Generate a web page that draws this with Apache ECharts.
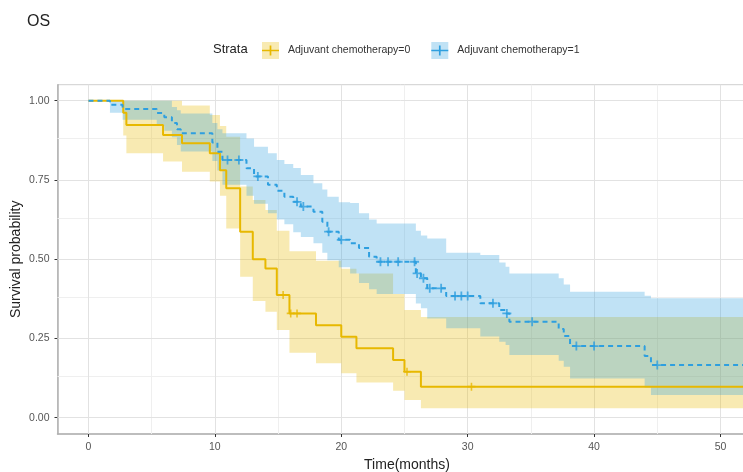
<!DOCTYPE html>
<html>
<head>
<meta charset="utf-8">
<script src="https://cdn.jsdelivr.net/npm/echarts@6/dist/echarts.min.js"></script>
<style>
  html, body { margin: 0; padding: 0; background: #fff; }
  #main { width: 743px; height: 472px; }
</style>
</head>
<body>
<div id="main"></div>
<script>
// Adjuvant chemotherapy=0 (yellow, solid)
const time0  = [0, 2.75, 3.0, 5.9, 7.4, 9.6, 10.4, 10.9, 12.0, 13.0, 14.0, 14.9, 15.9, 18.0, 20.0, 21.2, 24.1, 25.0, 26.3, 53]
const surv0  = [1, 0.962, 0.923, 0.892, 0.866, 0.834, 0.781, 0.724, 0.587, 0.500, 0.471, 0.387, 0.329, 0.292, 0.255, 0.219, 0.182, 0.145, 0.098, 0.098]
const lower0 = [1, 0.89, 0.834, 0.808, 0.776, 0.745, 0.70, 0.597, 0.445, 0.368, 0.334, 0.277, 0.205, 0.172, 0.14, 0.111, 0.085, 0.056, 0.03, 0.03]
const upper0 = [1, 1, 1, 1, 0.985, 0.955, 0.92, 0.886, 0.729, 0.687, 0.655, 0.59, 0.525, 0.495, 0.47, 0.455, 0.39, 0.34, 0.318, 0.318]
const censor0 = [15.4, 16.0, 16.5, 25.2, 30.3]

// Adjuvant chemotherapy=1 (blue, dashed)
const time1  = [0, 1.7, 2.7, 5.4, 6.0, 6.6, 7.0, 7.3, 9.8, 10.2, 10.6, 12.5, 13.1, 14.2, 14.9, 15.5, 16.2, 16.8, 17.8, 18.5, 18.9, 19.8, 20.7, 21.4, 22.2, 22.8, 25.9, 26.3, 26.8, 28.3, 31.0, 32.5, 33.0, 33.3, 37.2, 37.6, 38.1, 44.0, 44.5, 53]
const surv1  = [1, 0.987, 0.974, 0.961, 0.948, 0.930, 0.910, 0.897, 0.868, 0.839, 0.813, 0.787, 0.761, 0.735, 0.716, 0.697, 0.681, 0.666, 0.650, 0.618, 0.587, 0.561, 0.550, 0.535, 0.508, 0.492, 0.455, 0.440, 0.408, 0.384, 0.361, 0.340, 0.329, 0.303, 0.280, 0.258, 0.226, 0.195, 0.166, 0.166]
const lower1 = [1, 0.962, 0.94, 0.92, 0.905, 0.885, 0.86, 0.84, 0.81, 0.78, 0.735, 0.70, 0.675, 0.645, 0.625, 0.61, 0.585, 0.57, 0.55, 0.52, 0.497, 0.475, 0.455, 0.425, 0.405, 0.39, 0.36, 0.345, 0.313, 0.282, 0.256, 0.24, 0.229, 0.198, 0.18, 0.161, 0.124, 0.095, 0.072, 0.072]
const upper1 = [1, 1, 1, 1, 1, 0.98, 0.97, 0.96, 0.93, 0.91, 0.897, 0.881, 0.855, 0.834, 0.813, 0.80, 0.788, 0.766, 0.74, 0.72, 0.697, 0.68, 0.677, 0.645, 0.625, 0.613, 0.59, 0.575, 0.565, 0.52, 0.513, 0.49, 0.476, 0.455, 0.44, 0.42, 0.397, 0.385, 0.377, 0.377]
const censor1 = [11.0, 11.9, 13.4, 16.5, 17.0, 19.0, 20.0, 23.1, 23.7, 24.5, 25.8, 26.0, 26.5, 27.0, 27.9, 29.0, 29.5, 30.0, 32.0, 33.1, 35.1, 38.6, 40.0, 45.0]

const names = ['Adjuvant chemotherapy=0', 'Adjuvant chemotherapy=1']
const xTicks = [0, 10, 20, 30, 40, 50]
const xMinor = [5, 15, 25, 35, 45]
const yTicks = [0, 0.25, 0.5, 0.75, 1]
const yMinor = [0.125, 0.375, 0.625, 0.875]

const YELLOW = '#E7B800'
const BLUE = '#2E9FDF'
const FONT = 'Liberation Sans, Arial, sans-serif'
const PLUS = 'path://M4,0h2v4h4v2h-4v4h-2v-4h-4v-2h4z'
const KEY = 'path://M0,0h0.01v0.01h-0.01z M0,9h9v-5h2v5h9v2h-9v5h-2v-5h-9z M19.99,19.99h0.01v0.01h-0.01z'

function pairs(xs, ys) {
  return xs.map((x, i) => [x, ys[i]])
}
function survAt(times, surv, t) {
  let s = surv[0]
  for (let i = 0; i < times.length; i++) {
    if (times[i] <= t) s = surv[i]
  }
  return s
}

// confidence band as one step-shaped polygon, placed through the axes
function band(times, lo, up, fill) {
  return {
    type: 'custom', silent: true, z: 2, clip: true,
    data: [[times[0], lo[0]]],
    renderItem: function (params, api) {
      const pts = []
      for (let i = 0; i < times.length - 1; i++) {
        pts.push(api.coord([times[i], up[i]]))
        pts.push(api.coord([times[i + 1], up[i]]))
      }
      for (let i = times.length - 2; i >= 0; i--) {
        pts.push(api.coord([times[i + 1], lo[i]]))
        pts.push(api.coord([times[i], lo[i]]))
      }
      return { type: 'polygon', shape: { points: pts }, style: { fill: fill } }
    },
  }
}

const gridLines = {
  type: 'line', data: [], silent: true, z: 1,
  markLine: {
    silent: true, symbol: ['none', 'none'], label: { show: false }, z: 1, animation: false,
    data: [
      ...xMinor.map(v => ({ xAxis: v, lineStyle: { color: '#efefef', width: 1, type: 'solid' } })),
      ...yMinor.map(v => ({ yAxis: v, lineStyle: { color: '#efefef', width: 1, type: 'solid' } })),
      ...xTicks.map(v => ({ xAxis: v, lineStyle: { color: '#e2e2e2', width: 1, type: 'solid' } })),
      ...yTicks.map(v => ({ yAxis: v, lineStyle: { color: '#e2e2e2', width: 1, type: 'solid' } })),
    ],
  },
}

const legendBase = {
  left: 257, top: 37, itemWidth: 17, itemHeight: 17, itemGap: 21, selectedMode: false,
}

const myChart = echarts.init(document.getElementById('main'))

const option = {
  animation: false,
  title: [
    { text: 'OS', left: 22, top: 9, textStyle: { fontFamily: FONT, fontSize: 16, fontWeight: 'normal', color: '#222' } },
    { text: 'Strata', left: 208, top: 38, textStyle: { fontFamily: FONT, fontSize: 13, fontWeight: 'normal', color: '#222' } },
  ],
  legend: [
    Object.assign({}, legendBase, {
      textStyle: { fontFamily: FONT, fontSize: 10.5, color: '#333', padding: [0, 0, 0, 4] },
      data: [
        { name: names[0], icon: 'rect', itemStyle: { color: 'rgba(231,184,0,0.3)' } },
        { name: names[1], icon: 'rect', itemStyle: { color: 'rgba(46,159,223,0.3)' } },
      ],
    }),
    Object.assign({}, legendBase, {
      textStyle: { fontFamily: FONT, fontSize: 10.5, color: 'rgba(0,0,0,0)', padding: [0, 0, 0, 4] },
      data: [
        { name: names[0], icon: KEY, itemStyle: { color: YELLOW } },
        { name: names[1], icon: KEY, itemStyle: { color: BLUE } },
      ],
    }),
  ],
  grid: {
    left: 57.5, top: 84.7, width: 699, height: 349.3,
    outerBoundsMode: 'none', containLabel: false,
    show: true, borderColor: '#cfcfcf', borderWidth: 1,
  },
  xAxis: {
    type: 'value', min: -2.45, max: 52.85,
    name: 'Time(months)', nameLocation: 'middle', nameGap: 19,
    nameTextStyle: { fontFamily: FONT, fontSize: 14, color: '#222' },
    axisLine: { onZero: false, lineStyle: { color: '#b0b0b0', width: 1.5 } },
    axisTick: { customValues: xTicks, length: 3, lineStyle: { color: '#333' } },
    axisLabel: { customValues: xTicks, margin: 8, fontFamily: FONT, fontSize: 10.5, color: '#555' },
    splitLine: { show: false },
  },
  yAxis: {
    type: 'value', min: -0.0514, max: 1.0505,
    name: 'Survival probability', nameLocation: 'middle', nameGap: 34, nameMoveOverlap: false,
    nameTextStyle: { fontFamily: FONT, fontSize: 14, color: '#222' },
    axisLine: { show: true, onZero: false, lineStyle: { color: '#b0b0b0', width: 1.5 } },
    axisTick: { show: true, customValues: yTicks, length: 3, lineStyle: { color: '#333' } },
    axisLabel: {
      customValues: yTicks, margin: 8, fontFamily: FONT, fontSize: 10.5, color: '#555',
      formatter: v => v.toFixed(2),
    },
    splitLine: { show: false },
  },
  series: [
    gridLines,
    band(time0, lower0, upper0, 'rgba(231,184,0,0.3)'),
    band(time1, lower1, upper1, 'rgba(46,159,223,0.3)'),
    {
      name: names[0], type: 'line', step: 'end', symbol: 'none', z: 3, color: YELLOW,
      lineStyle: { color: YELLOW, width: 2 },
      data: pairs(time0, surv0),
    },
    {
      name: names[1], type: 'line', step: 'end', symbol: 'none', z: 3, color: BLUE,
      lineStyle: { color: BLUE, width: 2, type: [5, 4] },
      data: pairs(time1, surv1),
    },
    {
      type: 'scatter', symbol: PLUS, symbolSize: 8, z: 4, silent: true,
      itemStyle: { color: YELLOW },
      data: censor0.map(t => [t, survAt(time0, surv0, t)]),
    },
    {
      type: 'scatter', symbol: PLUS, symbolSize: 9, z: 4, silent: true,
      itemStyle: { color: BLUE },
      data: censor1.map(t => [t, survAt(time1, surv1, t)]),
    },
  ],
}

myChart.setOption(option)
</script>
</body>
</html>
